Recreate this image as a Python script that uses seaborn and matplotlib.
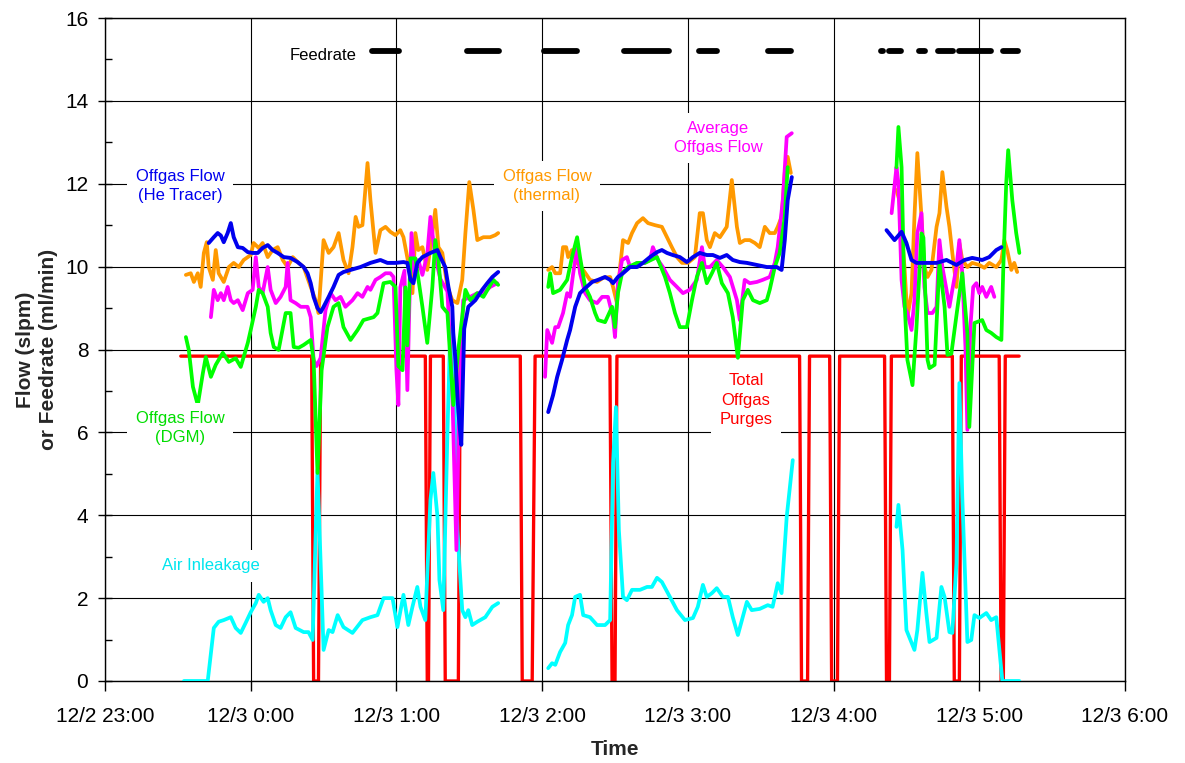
import matplotlib
matplotlib.use("Agg")
import pandas as pd
import matplotlib.pyplot as plt
import matplotlib.dates as mdates
import matplotlib.ticker as mticker
import seaborn as sns

# time is minutes after 12/3 0:00, None marks a gap in the record
he_flow = [
    (-17.3, 10.57), (-15.2, 10.71), (-13.6, 10.81), (-12.3, 10.75), (-11.1, 10.59), (-9.5, 10.81),
    (-8.2, 11.05), (-7.0, 10.71), (-5.3, 10.47), (-3.3, 10.45), (-1.2, 10.35), (0.8, 10.33),
    (2.9, 10.33), (4.9, 10.45), (7.0, 10.52), (9.0, 10.40), (11.1, 10.33), (13.6, 10.23),
    (16.4, 10.21), (19.3, 10.11), (21.8, 9.99), (23.4, 9.84), (24.7, 9.60), (25.9, 9.27),
    (27.5, 9.00), (28.8, 8.90), (30.0, 9.03), (32.1, 9.27), (34.1, 9.51), (36.2, 9.80),
    (38.2, 9.87), (41.1, 9.92), (45.2, 9.99), (49.3, 10.09), (53.4, 10.16), (56.3, 10.09),
    (59.6, 10.09), (62.9, 10.11), (64.5, 10.09), (65.8, 9.68), (67.0, 9.60), (68.6, 10.09),
    (70.7, 10.23), (74.0, 10.33), (76.9, 10.40), (78.1, 10.23), (80.1, 9.99), (81.4, 9.51),
    (83.0, 9.03), (83.4, 8.40), (84.3, 7.75), (85.5, 6.50), (86.7, 5.70), (87.9, 8.50),
    (89.6, 9.03), (92.5, 9.19), (95.3, 9.44), (97.4, 9.60), (99.5, 9.75), (101.9, 9.87),
    None,
    (122.5, 6.49), (124.5, 6.90), (126.2, 7.34), (128.2, 7.75), (130.3, 8.23), (131.5, 8.47),
    (133.6, 9.03), (135.6, 9.36), (137.7, 9.48), (140.6, 9.63), (143.0, 9.68), (145.9, 9.75),
    (148.0, 9.68), (149.2, 9.60), (151.2, 9.75), (153.3, 9.84), (156.2, 9.99), (159.1, 9.99),
    (161.5, 10.09), (164.4, 10.23), (167.3, 10.35), (169.3, 10.40), (171.4, 10.33), (173.8, 10.28),
    (176.7, 10.23), (179.6, 10.11), (182.1, 10.23), (184.9, 10.33), (187.8, 10.28), (190.3, 10.28),
    (193.2, 10.21), (196.0, 10.28), (198.5, 10.16), (201.4, 10.11), (204.3, 10.09), (208.4, 10.04),
    (212.5, 9.99), (216.6, 9.99), (218.6, 9.92), (219.9, 10.64), (221.1, 11.60), (222.8, 12.16),
    None,
    (261.8, 10.88), (265.1, 10.64), (268.0, 10.84), (270.0, 10.57), (272.1, 10.16), (274.1, 10.09),
    (278.2, 10.09), (282.4, 10.09), (286.5, 10.16), (290.6, 10.04), (293.9, 10.16), (297.1, 10.21),
    (301.2, 10.16), (304.1, 10.23), (307.0, 10.40), (309.1, 10.47),
]

thermal = [
    (-26.7, 9.80), (-24.7, 9.84), (-23.4, 9.63), (-21.8, 9.84), (-20.6, 9.51), (-19.3, 10.33),
    (-18.1, 10.59), (-17.3, 9.99), (-15.6, 9.68), (-14.4, 10.40), (-13.2, 9.84), (-11.1, 9.63),
    (-9.0, 9.99), (-7.0, 10.09), (-4.9, 9.99), (-2.9, 10.16), (0.0, 10.28), (1.2, 10.57),
    (3.3, 10.45), (4.9, 10.57), (7.0, 10.23), (9.0, 10.40), (11.1, 10.47), (13.2, 10.16),
    (15.2, 9.99), (17.3, 10.23), (19.7, 10.09), (21.8, 9.99), (24.7, 9.51), (26.7, 9.19),
    (27.9, 8.88), (30.0, 10.64), (32.1, 10.33), (34.1, 10.47), (36.2, 10.81), (38.2, 10.16),
    (40.3, 9.84), (41.9, 10.47), (43.2, 11.20), (44.4, 10.96), (46.0, 11.00), (48.1, 12.50),
    (49.3, 11.60), (51.4, 10.33), (53.4, 10.88), (55.5, 10.96), (57.5, 10.84), (59.6, 10.76),
    (61.6, 10.88), (62.9, 10.71), (64.9, 10.09), (66.6, 9.36), (67.8, 10.81), (69.0, 10.40),
    (70.7, 10.47), (72.7, 9.92), (74.8, 10.81), (76.0, 11.37), (77.3, 10.47), (78.9, 10.33),
    (81.0, 9.51), (83.0, 9.19), (85.1, 9.12), (87.1, 9.68), (88.4, 10.81), (90.0, 12.04),
    (91.7, 11.37), (93.3, 10.64), (95.8, 10.71), (98.6, 10.71), (100.7, 10.76), (101.9, 10.81),
    None,
    (122.5, 9.92), (124.1, 9.99), (125.4, 9.84), (127.4, 9.84), (128.6, 10.47), (129.9, 10.47),
    (130.7, 10.23), (132.3, 10.40), (134.4, 10.09), (136.9, 9.92), (139.7, 9.68), (142.6, 9.63),
    (145.1, 9.73), (148.0, 9.75), (149.2, 9.51), (150.8, 9.12), (152.1, 9.99), (153.3, 10.64),
    (155.4, 10.57), (157.0, 10.81), (159.1, 11.05), (161.5, 11.17), (163.6, 11.05), (166.5, 11.00),
    (169.3, 10.96), (171.4, 10.71), (173.4, 10.47), (175.5, 10.23), (177.6, 10.09), (180.0, 10.09),
    (182.9, 10.23), (184.9, 11.29), (186.2, 11.29), (187.8, 10.64), (189.1, 10.47), (191.1, 10.81),
    (193.2, 10.71), (196.0, 10.96), (198.1, 12.09), (200.2, 10.96), (201.4, 10.57), (203.4, 10.64),
    (205.5, 10.64), (207.6, 10.57), (209.6, 10.47), (211.7, 10.96), (213.7, 10.81), (215.8, 10.81),
    (217.0, 10.96), (218.6, 11.20), (219.9, 12.26), (221.1, 12.65), (222.4, 12.26),
    None,
    (265.9, 11.85), (267.1, 11.60), (269.2, 9.99), (270.4, 8.78), (272.1, 9.36), (273.3, 11.20),
    (274.5, 12.74), (276.2, 11.20), (277.4, 9.99), (278.7, 9.75), (280.3, 9.92), (282.4, 10.96),
    (283.6, 11.29), (284.8, 12.28), (286.5, 11.44), (287.7, 10.96), (288.9, 10.33), (290.6, 9.51),
    (291.8, 10.57), (293.0, 10.16), (295.1, 9.99), (297.1, 10.09), (300.0, 10.04), (302.1, 9.97),
    (304.1, 10.09), (307.0, 9.99), (309.1, 10.16), (310.3, 10.64), (311.5, 10.40), (313.2, 9.92),
    (314.4, 10.09), (315.6, 9.87),
]

dgm = [
    (-26.7, 8.30), (-25.5, 7.99), (-23.8, 7.10), (-21.8, 6.66), (-19.7, 7.43), (-18.5, 7.82),
    (-16.4, 7.34), (-14.4, 7.63), (-11.5, 7.92), (-9.0, 7.70), (-6.2, 7.79), (-4.1, 7.58),
    (-2.9, 7.82), (-1.2, 8.16), (0.0, 8.47), (2.1, 9.03), (3.3, 9.44), (4.9, 9.36),
    (7.0, 9.03), (8.2, 8.40), (9.5, 8.06), (11.5, 7.99), (14.4, 8.88), (16.4, 8.88),
    (17.7, 8.06), (19.7, 8.04), (21.8, 8.11), (24.7, 8.23), (25.9, 7.75), (27.5, 5.02),
    (29.2, 7.50), (31.6, 8.54), (34.1, 9.03), (36.2, 9.12), (38.2, 8.54), (41.1, 8.23),
    (44.0, 8.47), (46.4, 8.71), (50.6, 8.78), (52.2, 8.88), (54.7, 9.60), (57.5, 9.63),
    (59.6, 9.51), (60.8, 7.60), (62.5, 7.50), (63.7, 9.50), (64.5, 8.10), (65.8, 10.20),
    (67.8, 10.20), (70.7, 9.03), (72.7, 8.16), (74.8, 9.51), (76.0, 10.64), (77.3, 10.16),
    (78.9, 9.03), (81.0, 8.88), (83.4, 6.66), (85.5, 8.00), (88.4, 9.44), (90.4, 9.19),
    (93.3, 9.36), (95.8, 9.27), (99.9, 9.68), (101.9, 9.56),
    None,
    (122.5, 9.51), (123.3, 9.84), (124.5, 9.36), (127.4, 9.44), (130.3, 9.68), (132.3, 10.23),
    (134.4, 10.71), (135.6, 10.23), (137.7, 9.51), (139.7, 9.27), (141.8, 8.88), (143.0, 8.71),
    (145.9, 8.66), (148.8, 9.03), (150.0, 8.54), (151.2, 9.36), (152.9, 9.84), (155.4, 9.99),
    (159.1, 10.09), (162.3, 10.09), (167.3, 10.23), (170.6, 9.75), (172.6, 9.36), (174.7, 8.88),
    (176.7, 8.54), (179.6, 8.54), (181.7, 9.19), (183.7, 9.75), (185.8, 10.09), (187.8, 9.60),
    (189.9, 9.84), (191.9, 10.09), (194.0, 9.60), (196.5, 9.36), (198.5, 8.78), (200.6, 7.80),
    (202.6, 9.19), (204.7, 9.44), (206.8, 9.19), (209.6, 9.12), (212.5, 9.19), (213.7, 9.44),
    (215.8, 9.99), (217.8, 10.33), (219.9, 11.20), (221.1, 12.40),
    None,
    (265.9, 12.40), (266.7, 13.37), (268.0, 12.40), (269.2, 9.19), (270.4, 7.75), (272.5, 7.14),
    (274.1, 8.50), (276.2, 10.80), (277.0, 10.70), (278.7, 7.75), (279.5, 7.55), (281.6, 7.63),
    (283.6, 10.09), (285.7, 9.03), (286.9, 7.87), (288.5, 7.90), (291.0, 9.00), (293.0, 9.84),
    (295.1, 8.40), (295.9, 6.13), (298.0, 8.64), (301.2, 8.71), (302.9, 8.47), (304.9, 8.40),
    (307.0, 8.30), (309.1, 8.23), (309.9, 9.99), (311.1, 12.02), (311.9, 12.81), (313.6, 11.60),
    (315.2, 10.81), (316.5, 10.33),
]

avg_flow = [
    (-16.4, 8.78), (-15.2, 9.44), (-13.6, 9.19), (-12.3, 9.36), (-11.1, 9.19), (-9.5, 9.51),
    (-8.2, 9.19), (-7.0, 9.12), (-5.3, 9.19), (-3.3, 8.95), (-1.2, 9.36), (0.8, 9.44),
    (2.1, 10.23), (3.3, 9.51), (4.9, 9.36), (7.0, 9.99), (8.2, 9.44), (10.3, 9.12),
    (12.3, 9.27), (14.4, 9.51), (15.2, 10.09), (16.4, 9.19), (18.5, 9.12), (20.6, 9.03),
    (23.4, 9.03), (24.7, 8.78), (25.9, 7.75), (27.1, 7.60), (28.8, 7.80), (30.8, 8.95),
    (32.9, 9.36), (34.9, 9.19), (37.0, 9.27), (39.0, 9.03), (41.9, 9.19), (44.0, 9.36),
    (46.0, 9.27), (48.1, 9.51), (49.3, 9.44), (51.4, 9.68), (53.4, 9.75), (55.5, 9.84),
    (57.5, 9.84), (58.8, 9.75), (60.0, 7.50), (60.8, 6.66), (61.6, 9.50), (63.3, 9.90),
    (64.5, 7.02), (65.3, 9.00), (66.2, 10.81), (67.4, 9.84), (69.0, 10.16), (70.7, 9.80),
    (72.7, 10.30), (74.0, 11.20), (76.0, 10.23), (78.1, 9.70), (81.0, 9.40), (83.0, 7.00),
    (84.7, 3.16), (85.9, 7.00), (87.5, 9.19), (90.4, 9.27), (93.3, 9.36), (95.8, 9.36),
    (98.6, 9.51), (101.5, 9.60),
    None,
    (121.2, 7.34), (122.1, 8.47), (124.1, 8.16), (125.4, 8.54), (126.6, 8.54), (128.6, 8.88),
    (130.3, 9.36), (131.5, 9.27), (132.8, 9.84), (134.4, 10.47), (135.6, 9.84), (137.7, 9.36),
    (139.7, 9.19), (142.6, 9.12), (144.7, 9.27), (147.1, 9.27), (149.2, 8.78), (150.0, 8.30),
    (151.2, 9.60), (152.9, 10.16), (154.9, 10.23), (156.2, 9.99), (159.1, 10.09), (162.3, 10.09),
    (164.4, 10.16), (165.6, 10.47), (167.7, 10.16), (169.7, 9.99), (172.6, 9.68), (175.5, 9.51),
    (178.0, 9.36), (180.8, 9.44), (183.7, 9.68), (185.8, 10.47), (187.0, 9.99), (189.1, 9.99),
    (191.9, 10.16), (194.4, 9.99), (197.3, 9.75), (200.2, 9.19), (201.4, 8.71), (203.4, 9.68),
    (205.5, 9.60), (208.4, 9.63), (210.8, 9.68), (213.7, 9.75), (215.8, 10.09), (217.0, 10.47),
    (219.1, 11.60), (220.7, 13.13), (222.8, 13.22),
    None,
    (263.9, 11.29), (265.9, 12.40), (266.7, 12.02), (268.0, 9.68), (269.2, 9.03), (270.4, 8.88),
    (272.1, 8.47), (273.3, 9.19), (274.5, 10.81), (276.2, 11.29), (277.4, 9.51), (278.7, 8.88),
    (280.7, 8.88), (282.4, 9.03), (283.6, 10.64), (284.8, 9.99), (286.5, 9.44), (287.7, 9.03),
    (288.9, 9.44), (290.6, 9.99), (291.8, 10.64), (293.0, 9.84), (294.3, 8.06), (295.1, 6.06),
    (296.3, 8.50), (297.5, 9.51), (298.8, 9.60), (300.0, 9.36), (301.2, 9.51), (302.9, 9.27),
    (304.9, 9.51), (306.2, 9.27),
]

air_inleak = [
    (-27.5, 0.00), (-17.7, 0.00), (-15.2, 1.28), (-13.2, 1.43), (-11.1, 1.47), (-8.2, 1.54),
    (-6.2, 1.28), (-4.1, 1.16), (-2.1, 1.40), (0.0, 1.66), (2.1, 1.88), (3.3, 2.08),
    (5.3, 1.91), (7.0, 2.00), (8.2, 1.71), (10.3, 1.35), (12.3, 1.28), (14.4, 1.54),
    (16.4, 1.66), (18.5, 1.28), (21.8, 1.18), (23.8, 1.18), (25.5, 0.99), (27.5, 5.09),
    (30.0, 0.75), (32.1, 1.23), (33.7, 1.18), (35.8, 1.59), (38.2, 1.30), (41.9, 1.16),
    (46.0, 1.47), (49.3, 1.54), (52.2, 1.59), (54.7, 2.00), (58.4, 2.00), (60.4, 1.30),
    (62.9, 2.08), (64.9, 1.35), (66.6, 1.79), (68.6, 2.27), (69.9, 1.79), (71.9, 1.47),
    (74.0, 4.37), (75.2, 5.02), (76.9, 3.96), (77.7, 2.44), (79.3, 1.71), (81.0, 6.00),
    (82.2, 8.50), (83.4, 8.00), (85.1, 3.64), (87.1, 1.71), (88.4, 1.54), (89.6, 1.71),
    (91.2, 1.35), (93.3, 1.43), (96.6, 1.54), (99.5, 1.79), (101.9, 1.88),
    None,
    (122.5, 0.31), (124.1, 0.43), (125.4, 0.39), (127.4, 0.70), (129.5, 0.92), (130.7, 1.35),
    (132.3, 1.59), (133.6, 2.03), (135.6, 2.08), (136.9, 1.59), (139.7, 1.54), (142.6, 1.35),
    (145.9, 1.35), (148.0, 1.47), (149.2, 5.26), (150.4, 6.61), (151.6, 3.64), (153.3, 2.03),
    (154.9, 1.95), (157.0, 2.20), (160.3, 2.20), (163.2, 2.27), (165.2, 2.27), (167.3, 2.49),
    (169.3, 2.39), (172.6, 2.03), (175.5, 1.71), (178.8, 1.47), (182.1, 1.52), (184.1, 1.79),
    (186.2, 2.32), (187.8, 2.03), (189.9, 2.12), (191.9, 2.24), (194.4, 2.03), (196.5, 2.03),
    (198.5, 1.54), (200.6, 1.11), (204.3, 1.91), (206.3, 1.71), (209.6, 1.74), (212.9, 1.83),
    (214.9, 1.79), (217.0, 2.36), (218.6, 2.12), (220.7, 3.96), (223.2, 5.33),
    None,
    (265.9, 3.72), (266.7, 4.25), (268.4, 3.16), (270.0, 1.23), (273.3, 0.75), (274.5, 1.23),
    (276.6, 2.61), (278.2, 1.64), (279.5, 0.94), (282.4, 1.04), (284.4, 2.27), (285.7, 2.03),
    (287.7, 1.18), (288.9, 1.16), (290.6, 2.85), (291.8, 7.19), (293.0, 4.44), (295.1, 0.94),
    (296.7, 0.99), (298.0, 1.59), (300.0, 1.52), (302.9, 1.64), (304.9, 1.47), (307.0, 1.54),
    (309.5, 0.00), (316.5, 0.00),
]

purges = [
    (-28.8, 7.84), (25.1, 7.84), (25.9, 0.0), (27.9, 0.0), (28.8, 7.84),
    (71.9, 7.84), (72.7, 0.0), (73.2, 0.0), (74.0, 7.84),
    (79.3, 7.84), (80.1, 0.0), (85.5, 0.0), (86.3, 7.84),
    (111.0, 7.84), (111.8, 0.0), (115.9, 0.0), (117.1, 7.84),
    (147.9, 7.84), (148.8, 0.0), (150.0, 0.0), (150.8, 7.84),
    (226.0, 7.84), (226.8, 0.0), (229.3, 0.0), (230.1, 7.84),
    (238.4, 7.84), (239.2, 0.0), (241.6, 0.0), (242.5, 7.84),
    (261.0, 7.84), (261.8, 0.0), (263.0, 0.0), (263.8, 7.84),
    (288.9, 7.84), (289.7, 0.0), (291.8, 0.0), (292.6, 7.84),
    (308.2, 7.84), (309.0, 0.0), (309.9, 0.0), (310.7, 7.84),
    (316.4, 7.84),
]

feed_level = 15.2
feed_on = [(49.8, 61.1), (88.9, 102.2), (120.9, 134.3), (153.8, 172.1), (184.6, 192.2),
           (213.0, 222.3), (259.6, 260.4), (262.7, 267.9), (275.0, 277.7), (282.9, 289.2),
           (291.5, 304.9), (309.6, 316.0)]

base = pd.Timestamp("2003-12-03 00:00")


def to_frame(points):
    rows, seg = [], 0
    for p in points:
        if p is None:
            seg += 1
            continue
        rows.append((seg, p[0], p[1]))
    df = pd.DataFrame(rows, columns=["seg", "minute", "value"])
    df["time"] = base + pd.to_timedelta(df["minute"], unit="min")
    return df


feed_pts = []
for a, b in feed_on:
    feed_pts += [(a, feed_level), (b, feed_level), None]

sns.set_style("white")
plt.rcParams["font.family"] = ["Liberation Sans", "DejaVu Sans"]

fig = plt.figure(figsize=(11.85, 7.63), dpi=100)
ax = fig.add_axes([105 / 1185, 1 - 681 / 763, 1020 / 1185, 663 / 763])

series = [
    (purges, "#FF0000", 2.4, 2),
    (air_inleak, "#00FFFF", 2.7, 3),
    (thermal, "#FF9900", 2.7, 4),
    (avg_flow, "#FF00FF", 2.7, 5),
    (dgm, "#00FF00", 2.7, 6),
    (he_flow, "#0000EE", 2.8, 7),
]
for pts, col, lw, z in series:
    sns.lineplot(data=to_frame(pts), x="time", y="value", units="seg", estimator=None,
                 sort=False, color=col, linewidth=lw, zorder=z, legend=False, ax=ax)

sns.lineplot(data=to_frame(feed_pts), x="time", y="value", units="seg", estimator=None,
             sort=False, color="black", linewidth=4.2, solid_capstyle="round",
             zorder=8, legend=False, ax=ax)

ax.set_xlim(base - pd.Timedelta(hours=1), base + pd.Timedelta(hours=6))
ax.set_ylim(0, 16)
ax.xaxis.set_major_locator(mdates.HourLocator())


def hour_label(x, pos):
    d = mdates.num2date(x)
    return f"{d.month}/{d.day} {d.hour}:{d.minute:02d}"


ax.xaxis.set_major_formatter(mticker.FuncFormatter(hour_label))
ax.yaxis.set_major_locator(mticker.MultipleLocator(2))
ax.yaxis.set_minor_locator(mticker.MultipleLocator(1))
ax.grid(True, which="major", color="black", linewidth=0.8)

ax.tick_params(axis="x", bottom=True, direction="out", length=7, width=1,
               labelsize=15, pad=12, colors="black")
ax.tick_params(axis="y", which="major", left=True, direction="inout", length=10,
               width=1, labelsize=15, pad=7, colors="black")
ax.tick_params(axis="y", which="minor", left=True, direction="in", length=5, width=1,
               colors="black")
for sp in ax.spines.values():
    sp.set_color("black")
    sp.set_linewidth(1)

ax.set_xlabel("Time", fontsize=15, fontweight="bold", labelpad=10)
ax.set_ylabel("Flow (slpm)\nor Feedrate (ml/min)", fontsize=15, fontweight="bold",
              labelpad=5, linespacing=1.3)

notes = [
    ("Feedrate", 0.2137, 0.9427, "black"),
    ("Offgas Flow\n(He Tracer)", 0.0735, 0.7466, "#0000EE"),
    ("Offgas Flow\n(thermal)", 0.4333, 0.7466, "#FF9900"),
    ("Average\nOffgas Flow", 0.601, 0.819, "#FF00FF"),
    ("Offgas Flow\n(DGM)", 0.0735, 0.3816, "#00DD00"),
    ("Total\nOffgas\nPurges", 0.6284, 0.4238, "#FF0000"),
    ("Air Inleakage", 0.1039, 0.1735, "#00E5EE"),
]
for txt, x, y, col in notes:
    ax.text(x, y, txt, transform=ax.transAxes, ha="center", va="center", color=col,
            fontsize=12, linespacing=1.35, zorder=10,
            bbox=dict(facecolor="white", edgecolor="none", pad=6))

fig.savefig("out.png", dpi=100)
